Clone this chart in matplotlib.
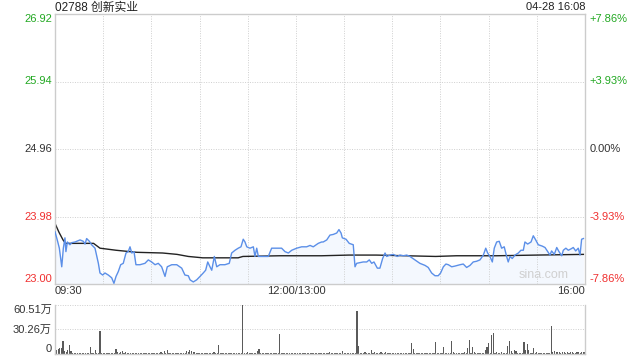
import numpy as np
import matplotlib
matplotlib.use("Agg")
import matplotlib.pyplot as plt

plt.rcParams['font.family'] = ['Liberation Sans', 'Noto Sans CJK SC', 'DejaVu Sans']

# ---- data ----
title = "02788 创新实业"
stamp = "04-28 16:08"
prev_close = 24.96
price_ticks = [23.00, 23.98, 24.96, 25.94, 26.92]
pct_labels = ["-7.86%", "-3.93%", "0.00%", "+3.93%", "+7.86%"]
vol_ticks = [0, 30.26, 60.51]
vol_labels = ["0", "30.26万", "60.51万"]
time_ticks = [0, 150, 330]
time_labels = ["09:30", "12:00/13:00", "16:00"]

# minutes since 09:30 (lunch break removed) and last price
price_t = [0, 1.4, 2.7, 4.2, 5.2, 6.2, 6.8, 7.7, 9.3, 10.4, 12.5, 15.6, 17.6, 18.7,
           19.7, 21.4, 22.8, 24.9, 27.0, 28.0, 29.7, 31.1, 33.2, 35.3, 36.7, 38.0,
           39.4, 40.9, 42.5, 44.2, 45.6, 46.7, 47.8, 49.2, 50.4, 52.9, 56.0, 58.1,
           60.2, 62.3, 64.3, 66.4, 68.5, 69.9, 72.7, 75.8, 78.9, 80.9, 83.0, 84.1,
           86.1, 88.2, 90.3, 92.3, 93.8, 95.1, 96.5, 97.6, 99.2, 100.7, 102.7, 105.8,
           108.5, 110.0, 112.1, 114.1, 115.8, 117.2, 118.3, 119.4, 121.4, 123.5,
           124.5, 125.6, 126.6, 129.7, 132.8, 134.9, 138.0, 141.1, 143.2, 145.3,
           147.4, 150.5, 153.6, 156.7, 158.8, 160.8, 163.9, 166.0, 167.0, 169.2,
           171.2, 173.3, 175.4, 176.8, 178.1, 178.9, 181.2, 183.2, 185.7, 186.8,
           187.8, 189.9, 191.9, 194.1, 195.7, 197.2, 198.6, 200.7, 202.3, 204.0,
           205.5, 206.5, 208.6, 210.6, 213.1, 214.8, 216.9, 219.0, 221.0, 224.1,
           227.2, 230.4, 232.4, 234.5, 236.6, 238.6, 240.1, 241.8, 243.4, 244.9,
           247.0, 249.0, 252.2, 254.2, 256.3, 258.4, 260.4, 262.5, 264.6, 266.7,
           268.2, 269.4, 270.8, 272.3, 273.5, 275.0, 276.6, 278.1, 279.7, 281.2,
           282.2, 283.3, 284.7, 286.4, 288.5, 290.1, 291.6, 292.6, 294.3, 296.4,
           297.8, 299.3, 300.9, 303.4, 305.1, 306.8, 308.2, 309.2, 310.9, 312.4,
           313.8, 315.5, 316.5, 318.1, 319.6, 321.3, 322.7, 324.2, 325.8, 326.9,
           327.9, 329.0]
price = [23.76, 23.64, 23.52, 23.25, 23.52, 23.67, 23.47, 23.61, 23.57, 23.60, 23.61,
         23.64, 23.62, 23.58, 23.66, 23.62, 23.57, 23.52, 23.30, 23.16, 23.13, 23.16,
         23.13, 23.09, 23.01, 23.11, 23.18, 23.28, 23.30, 23.45, 23.47, 23.54, 23.45,
         23.47, 23.28, 23.28, 23.30, 23.35, 23.32, 23.28, 23.30, 23.25, 23.11, 23.25,
         23.28, 23.28, 23.23, 23.13, 23.12, 23.06, 23.03, 23.06, 23.11, 23.16, 23.20,
         23.32, 23.25, 23.20, 23.40, 23.25, 23.28, 23.28, 23.30, 23.45, 23.49, 23.52,
         23.54, 23.65, 23.61, 23.54, 23.52, 23.54, 23.40, 23.52, 23.40, 23.40, 23.40,
         23.52, 23.52, 23.52, 23.47, 23.45, 23.49, 23.52, 23.54, 23.54, 23.56, 23.54,
         23.59, 23.61, 23.61, 23.64, 23.71, 23.72, 23.74, 23.79, 23.74, 23.67, 23.65,
         23.59, 23.57, 23.25, 23.30, 23.31, 23.32, 23.32, 23.35, 23.30, 23.32, 23.23,
         23.23, 23.37, 23.45, 23.40, 23.42, 23.43, 23.40, 23.42, 23.41, 23.42, 23.40,
         23.35, 23.30, 23.27, 23.24, 23.16, 23.12, 23.12, 23.16, 23.25, 23.29, 23.28,
         23.25, 23.26, 23.28, 23.29, 23.24, 23.27, 23.32, 23.33, 23.35, 23.42, 23.52,
         23.45, 23.40, 23.32, 23.52, 23.61, 23.62, 23.52, 23.54, 23.40, 23.32, 23.40,
         23.37, 23.42, 23.45, 23.49, 23.49, 23.61, 23.58, 23.61, 23.70, 23.64, 23.57,
         23.55, 23.53, 23.47, 23.42, 23.48, 23.43, 23.53, 23.47, 23.41, 23.49, 23.52,
         23.49, 23.51, 23.53, 23.48, 23.52, 23.42, 23.65, 23.66]

# average price line
avg_t = [0, 2.5, 5, 6.5, 24, 28, 38, 51, 67, 76, 83, 92, 114, 117, 140, 166, 183,
         200, 237, 250, 275, 300, 329]
avg_price = [23.88, 23.75, 23.64, 23.59, 23.59, 23.52, 23.49, 23.46, 23.45, 23.43,
             23.40, 23.38, 23.38, 23.40, 23.41, 23.41, 23.42, 23.42, 23.40, 23.41,
             23.41, 23.42, 23.43]

# volume per minute (万股)
volume = [
    16.4, 5, 6, 7, 7, 16.4, 4, 2, 5, 11, 4, 1.5, 1.5, 1, 1, 0.8, 1, 1, 0.8, 1, 1, 1.5, 9, 1.5, 1, 5, 1, 1, 28.8, 1.5,
    1, 1, 0.8, 1, 1, 0.8, 1, 1, 6, 3, 1.5, 3, 4, 1.5, 2.5, 1, 1, 0.8, 1, 1, 0.8, 1, 1, 0.8, 1, 1, 1, 1.5, 1, 1,
    1, 0.8, 1, 1, 1.5, 1, 2.5, 1.5, 4, 1, 5.5, 1, 1, 0.8, 1, 1, 0.8, 1, 1, 1.5, 1, 1, 4, 2, 5.5, 4, 2, 2.5, 1.5, 1,
    1, 0.8, 1, 1.5, 1, 1, 1.5, 1, 1, 2, 1, 1.5, 11, 1.5, 1, 1, 1, 0.8, 1, 1, 1.5, 1, 1, 1, 0.8, 1, 1.5, 60.51, 1, 1.5,
    2.5, 1, 1, 1.5, 1, 1, 4, 6, 1.5, 1, 1, 1, 0.8, 1, 1, 1.5, 1, 1, 1, 1.5, 24.7, 1.5, 1, 0.8, 1, 1, 1, 1.5, 1, 1,
    1, 1.5, 1, 1, 0.8, 1, 1, 1.5, 1, 1, 1, 1.5, 1, 1, 1, 1.5, 1, 1, 1.5, 1, 1, 3, 1, 1.5, 1, 1, 1.5, 1, 1, 4,
    1.5, 1, 1, 1, 1, 1, 1.5, 1, 53, 10, 1.5, 1, 1, 3, 1, 1, 1.5, 5.5, 1, 2, 1, 1, 1, 2, 1, 1, 2, 1, 1, 1.5,
    1, 1, 1, 1.5, 1, 1, 1, 1, 1, 1.5, 1, 1, 14, 6, 1.5, 1, 1, 1.5, 1, 1, 1, 1.5, 1, 1, 1, 1.5, 1, 14.8, 1.5, 1,
    1, 1.5, 9, 1, 1, 1.5, 1, 16.4, 2.5, 1, 1, 1.5, 1, 1, 1, 2.5, 1, 7, 17.3, 1.5, 9, 2.5, 1, 1, 1, 1.5, 1, 1, 5.5, 9,
    14, 1.5, 23.5, 26.4, 1.5, 2.5, 1, 1, 3, 1, 1, 1.5, 10, 16.4, 4, 1.5, 5, 4, 1.5, 1, 1, 1.5, 15, 5.5, 12.3, 5, 1.5, 1, 7, 1.5,
    2.5, 1, 1, 1.5, 1, 1, 1, 1.5, 1, 34.6, 3, 4, 2.5, 2, 2, 1.5, 2, 2, 1.5, 2, 1.5, 2, 2, 1.5, 1.5, 2, 2, 1.5, 2, 2.5,
    2,
]

green = "#22a822"
red = "#f03030"
gray_txt = "#333333"
grid_c = "#cfcfcf"
spine_c = "#cccccc"

fig = plt.figure(figsize=(6.4, 3.6), dpi=100)
ax = fig.add_axes([55 / 640, 1 - 284 / 360, 530 / 640, 270 / 360])
axv = fig.add_axes([55 / 640, 1 - 354 / 360, 530 / 640, 49 / 360])

# ---- price panel ----
ax.fill_between(price_t, price, price_ticks[0], color="#f4f8fe", lw=0, zorder=1)
ax.plot(price_t, price, color="#5b8fe8", lw=1.0, zorder=3)
ax.plot(avg_t, avg_price, color="#222222", lw=1.0, zorder=2)

ax.set_xlim(0, 330)
ax.set_ylim(price_ticks[0], price_ticks[-1])
ax.set_xticks(np.arange(0, 331, 30))
ax.set_yticks(price_ticks)
ax.grid(True, color=grid_c, linestyle=(0, (1, 1.5)), lw=0.7)
ax.tick_params(length=0, labelbottom=False, labelleft=False)
for s in ax.spines.values():
    s.set_color(spine_c)
    s.set_linewidth(1.0)

ytr = ax.get_yaxis_transform()
for i, (p, pc) in enumerate(zip(price_ticks, pct_labels)):
    if p > prev_close + 1e-6:
        c = green
    elif p < prev_close - 1e-6:
        c = red
    else:
        c = gray_txt
    va = "center"
    if i == 0:
        va = "bottom"
    elif i == len(price_ticks) - 1:
        va = "top"
    ax.text(-0.006, p, f"{p:.2f}", transform=ytr, ha="right", va=va, color=c, fontsize=8)
    ax.text(1.008, p, pc, transform=ytr, ha="left", va=va, color=c, fontsize=8)

xtr = ax.get_xaxis_transform()
for t, lab in zip(time_ticks, time_labels):
    ha = "left" if t == time_ticks[0] else ("right" if t == time_ticks[-1] else "center")
    ax.text(t, -0.008, lab, transform=xtr, ha=ha, va="top", color=gray_txt, fontsize=8)

ax.text(0.97, 0.01, "sina.com", transform=ax.transAxes, ha="right", va="bottom",
        color="#d0d0d0", fontsize=9)

# ---- volume panel ----
axv.bar(np.arange(len(volume)), volume, width=0.7, color="#5a5a5a", zorder=2)
axv.set_xlim(0, 330)
axv.set_ylim(0, vol_ticks[-1])
axv.set_xticks([])
axv.set_yticks(vol_ticks[1:])
axv.yaxis.grid(True, color=grid_c, linestyle=(0, (1, 1.5)), lw=0.7)
axv.tick_params(length=0, labelleft=False)
axv.spines["top"].set_visible(False)
for k in ["left", "right", "bottom"]:
    axv.spines[k].set_color(spine_c)
    axv.spines[k].set_linewidth(1.0)

vtr = axv.get_yaxis_transform()
for i, (v, lab) in enumerate(zip(vol_ticks, vol_labels)):
    va = "center"
    if i == 0:
        va = "bottom"
    elif i == len(vol_ticks) - 1:
        va = "top"
    axv.text(-0.006, v, lab, transform=vtr, ha="right", va=va, color=gray_txt, fontsize=8)

fig.text(55 / 640, 1 - 8 / 360, title, ha="left", va="center", color="#222222", fontsize=8.5)
fig.text(585 / 640, 1 - 7 / 360, stamp, ha="right", va="center", color="#222222", fontsize=8)

fig.savefig("out.png", dpi=100)
